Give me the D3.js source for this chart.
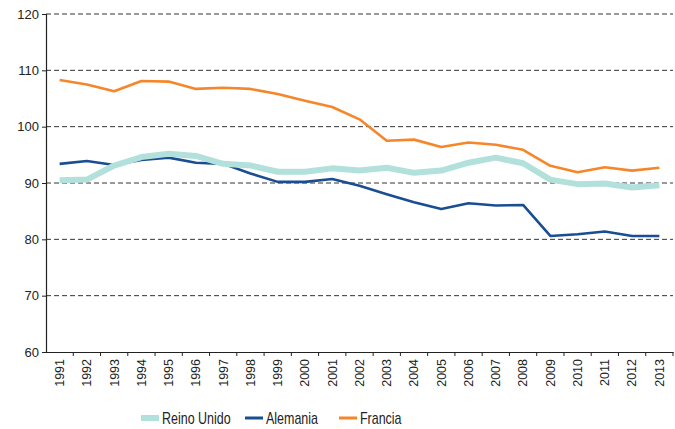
<!DOCTYPE html>
<html><head><meta charset="utf-8">
<script src="https://cdn.jsdelivr.net/npm/d3@7"></script>
<style>
html,body{margin:0;padding:0;background:#fff;}
svg{display:block;font-family:"Liberation Sans",Arial,Helvetica,sans-serif;}
</style></head>
<body>
<script>
const years = ["1991","1992","1993","1994","1995","1996","1997","1998","1999","2000","2001","2002","2003","2004","2005","2006","2007","2008","2009","2010","2011","2012","2013"];
const reinoUnido = [90.5,90.6,93.1,94.6,95.2,94.8,93.4,93.1,92.0,92.0,92.6,92.2,92.7,91.8,92.2,93.6,94.5,93.5,90.6,89.8,89.9,89.2,89.6];
const alemania   = [93.4,93.9,93.2,94.1,94.5,93.6,93.4,91.7,90.2,90.2,90.7,89.5,88.0,86.6,85.4,86.4,86.0,86.1,80.6,80.9,81.4,80.6,80.6];
const francia    = [108.3,107.5,106.3,108.1,108.0,106.7,106.9,106.7,105.8,104.6,103.5,101.3,97.5,97.7,96.4,97.2,96.8,95.9,93.05,91.9,92.8,92.2,92.7];
const yTicks = [60,70,80,90,100,110,120];
const seriesNames = ["Reino Unido","Alemania","Francia"];
const seriesColors = ["#b2e0db","#1a4e92","#f5872a"];
const seriesWidths = [6,2.6,2.6];

const W = 675, H = 429;
const m = {left:46, right:2, top:14, bottom:77};
const svg = d3.select("body").append("svg").attr("width",W).attr("height",H);

const x = d3.scaleBand().domain(years).range([m.left, W-m.right]).padding(0);
const y = d3.scaleLinear().domain([60,120]).range([H-m.bottom, m.top]);

// gridlines
svg.append("g").selectAll("line").data(yTicks.filter(d=>d>60)).join("line")
  .attr("x1", m.left).attr("x2", W-m.right)
  .attr("y1", d=>y(d)).attr("y2", d=>y(d))
  .attr("stroke","#333").attr("stroke-width",1).attr("stroke-dasharray","5,3");

// y axis
const ya = svg.append("g").attr("transform",`translate(${m.left},0)`)
  .call(d3.axisLeft(y).tickValues(yTicks).tickSize(4).tickPadding(3));
ya.select(".domain").attr("stroke","#222").attr("stroke-width",1.2);
ya.selectAll(".tick line").attr("stroke","#222");
ya.selectAll("text").attr("font-size","13px").attr("fill","#222").attr("font-family","Liberation Sans, Arial, sans-serif");

// x axis
const xa = svg.append("g").attr("transform",`translate(0,${H-m.bottom})`)
  .call(d3.axisBottom(x).tickSize(0).tickSizeOuter(0));
xa.select(".domain").attr("stroke","#222").attr("stroke-width",1.2);
xa.selectAll("text")
  .attr("font-size","12.5px").attr("fill","#222").attr("font-family","Liberation Sans, Arial, sans-serif")
  .attr("transform","rotate(-90)").attr("text-anchor","end")
  .attr("x",-7).attr("y",0).attr("dy","0.35em");
// band-boundary ticks
xa.append("g").selectAll("line").data(years.slice(1).concat(["end"])).join("line")
  .attr("x1", (d,i)=> i<years.length-1 ? x(years[i+1]) : W-m.right)
  .attr("x2", (d,i)=> i<years.length-1 ? x(years[i+1]) : W-m.right)
  .attr("y1",0).attr("y2",4).attr("stroke","#222");

// lines
const line = d3.line().x((d,i)=>x(years[i])+x.bandwidth()/2).y(d=>y(d));
const data = [reinoUnido, alemania, francia];
const order = [1,0,2];
order.forEach(k=>{
  svg.append("path").datum(data[k]).attr("d",line)
    .attr("fill","none").attr("stroke",seriesColors[k]).attr("stroke-width",seriesWidths[k])
    .attr("stroke-linejoin","round");
});

// legend
const legX = [141,245,339];
const lg = svg.append("g");
seriesNames.forEach((n,k)=>{
  lg.append("line").attr("x1",legX[k]).attr("x2",legX[k]+18).attr("y1",418).attr("y2",418)
    .attr("stroke",seriesColors[k]).attr("stroke-width",k===0?6:3);
  lg.append("text")
    .attr("transform",`translate(${legX[k]+21},418) scale(0.78,1)`)
    .attr("dy","0.36em")
    .attr("font-size","16px").attr("fill","#222")
    .text(n);
});
</script>
</body></html>
